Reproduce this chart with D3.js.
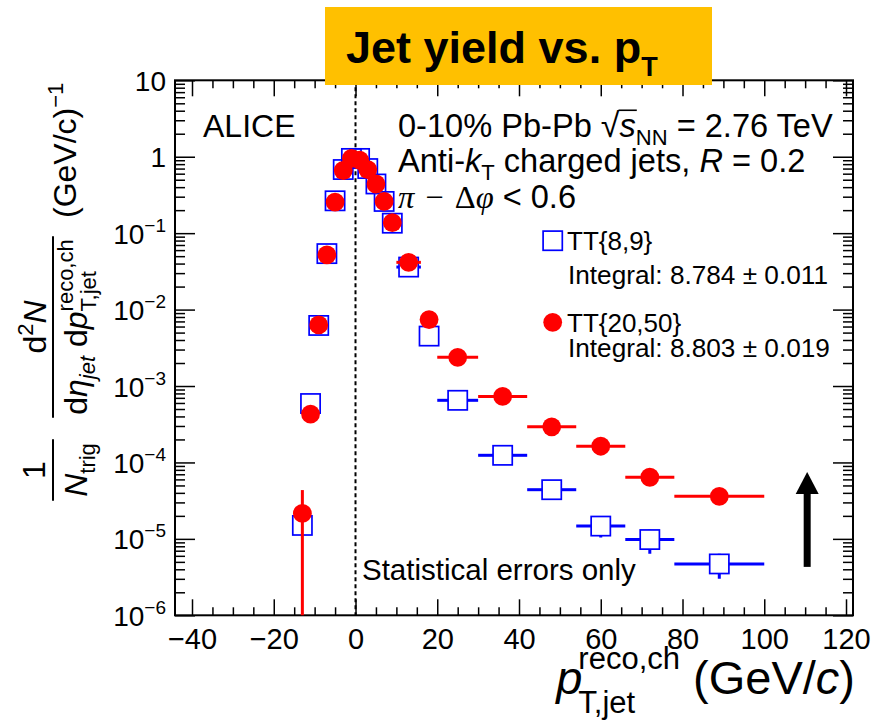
<!DOCTYPE html>
<html>
<head>
<meta charset="utf-8">
<script src="https://cdn.jsdelivr.net/npm/d3@7"></script>
<style>
  body { margin: 0; background: #fff; }
  text { font-family: "Liberation Sans", Arial, Helvetica, sans-serif; fill: #000; white-space: pre; }
</style>
</head>
<body>
<svg id="chart" width="877" height="720"></svg>
<script>
// ---- data: recoil jet yield per trigger, 0-10% Pb-Pb ----
const ptCenters    = [-13, -11, -9, -7, -5, -3, -1, 1, 3, 5, 7, 9, 13, 18, 25, 36, 48, 60, 72, 89];
const ptHalfWidths = [1, 1, 1, 1, 1, 1, 1, 1, 1, 1, 1, 1, 3, 2, 5, 6, 6, 6, 6, 11];

// TT{8,9} reference trigger class
const yieldTT89 = [1.5e-5, 5.9e-4, 6.2e-3, 0.054, 0.265, 0.68, 0.95, 0.95, 0.70, 0.44, 0.26, 0.135,
                   0.036, 4.5e-3, 6.5e-4, 1.24e-4, 4.4e-5, 1.47e-5, 9.8e-6, 4.7e-6];
const errTT89   = [3e-6, 6e-5, 3e-4, 1.5e-3, 4e-3, 8e-3, 1e-2, 1e-2, 8e-3, 6e-3, 4e-3, 2.5e-3,
                   5e-4, 1e-4, 3e-5, 1e-5, 5e-6, 4.3e-6, 3.4e-6, 1.7e-6];

// TT{20,50} signal trigger class
const yieldTT2050 = [2.15e-5, 4.3e-4, 6.3e-3, 0.052, 0.255, 0.66, 0.95, 0.90, 0.68, 0.44, 0.26, 0.137,
                     0.0415, 7.4e-3, 2.37e-3, 7.3e-4, 2.92e-4, 1.63e-4, 6.4e-5, 3.6e-5];
const errTT2050   = [2.2e-5, 9e-5, 8e-4, 3e-3, 8e-3, 1.5e-2, 2e-2, 2e-2, 1.5e-2, 1e-2, 7e-3, 4e-3,
                     1.5e-3, 4e-4, 1.6e-4, 6e-5, 3e-5, 2e-5, 1.2e-5, 6e-6];

const seriesNames = ["TT{8,9}", "TT{20,50}"];
const integralLabels = ["Integral: 8.784 \u00b1 0.011", "Integral: 8.803 \u00b1 0.019"];

// axis ticks
const xMajorTicks = [-40, -20, 0, 20, 40, 60, 80, 100, 120];
const xTickLabels = ["\u221240", "\u221220", "0", "20", "40", "60", "80", "100", "120"];
const yExponents  = [-6, -5, -4, -3, -2, -1, 0, 1];

// upward arrow annotation (x in GeV/c, y in yield units)
const arrowX = 110.5, arrowFrom = 4.3e-6, arrowTo = 7.5e-5;

// ---- layout ----
const svg = d3.select("#chart");
const frame = { l: 175, r: 853, t: 80.3, b: 615.3 };
const x = d3.scaleLinear().domain([-44.16, 121.71]).range([frame.l, frame.r]);
const y = d3.scaleLog().domain([1e-6, 10]).range([frame.b, frame.t]);

const BLUE = "#0000ff", RED = "#ff0000";

// rich text: a row of pieces with their own size / style / baseline shift
function rich(parent, x0, y0, parts, anchor = "start", defSize = 32) {
  const outer = parent.append("g").attr("transform", `translate(${x0},${y0})`);
  const g = outer.append("g");
  let cx = 0, pendingW = null;
  parts.forEach(p => {
    const s = p.s || defSize;
    cx += (p.gap || 0);
    const t = g.append("text")
      .attr("x", cx).attr("y", p.dy || 0)
      .attr("font-size", s)
      .attr("font-style", p.i ? "italic" : null)
      .attr("font-weight", p.b ? "bold" : null)
      .style("font-family", p.f || null)
      .text(p.t);
    const w = t.node().getComputedTextLength();
    if (p.over) {
      g.append("line").attr("x1", cx - 1).attr("x2", cx + w + 1)
        .attr("y1", (p.dy || 0) - s * p.over).attr("y2", (p.dy || 0) - s * p.over)
        .attr("stroke", "#000").attr("stroke-width", 1.6);
    }
    if (p.stack) { pendingW = w; }
    else { cx += pendingW != null ? Math.max(w, pendingW) : w; pendingW = null; }
  });
  const shift = anchor === "middle" ? -cx / 2 : anchor === "end" ? -cx : 0;
  g.attr("transform", `translate(${shift},0)`);
  return { g: outer, width: cx };
}

function frac(parent, cx, num, den, numBase, denBase, lineY, pad, size) {
  const n = rich(parent, cx, numBase, num, "middle", size);
  const d = rich(parent, cx, denBase, den, "middle", size);
  const w = Math.max(n.width, d.width) + pad;
  parent.append("line").attr("x1", cx - w / 2).attr("x2", cx + w / 2)
    .attr("y1", lineY).attr("y2", lineY).attr("stroke", "#000").attr("stroke-width", 2);
}

// ---- axes ----
const xMinorTicks = d3.range(-40, 121, 5).filter(v => !xMajorTicks.includes(v));
const yMajorTicks = yExponents.map(e => Math.pow(10, e));
const yMinorTicks = [];
yExponents.slice(0, -1).forEach(e => { for (let m = 2; m <= 9; m++) yMinorTicks.push(m * Math.pow(10, e)); });

function styleAxis(g) {
  g.select(".domain").remove();
  g.selectAll(".tick line").attr("stroke", "#000").attr("stroke-width", 1.5);
}

const axes = svg.append("g");
// bottom
axes.append("g").attr("transform", `translate(0,${frame.b})`)
  .call(d3.axisBottom(x).tickValues(xMajorTicks).tickSizeInner(-16).tickSizeOuter(0).tickPadding(13)
    .tickFormat((d, i) => xTickLabels[i]))
  .call(styleAxis)
  .call(g => g.selectAll(".tick text").attr("font-size", 29).attr("font-family", null).attr("fill", "#000"));
axes.append("g").attr("transform", `translate(0,${frame.b})`)
  .call(d3.axisBottom(x).tickValues(xMinorTicks).tickSizeInner(-8).tickSizeOuter(0).tickFormat(""))
  .call(styleAxis);
// top
axes.append("g").attr("transform", `translate(0,${frame.t})`)
  .call(d3.axisTop(x).tickValues(xMajorTicks).tickSizeInner(-16).tickSizeOuter(0).tickFormat(""))
  .call(styleAxis);
axes.append("g").attr("transform", `translate(0,${frame.t})`)
  .call(d3.axisTop(x).tickValues(xMinorTicks).tickSizeInner(-8).tickSizeOuter(0).tickFormat(""))
  .call(styleAxis);
// left
const leftAxis = axes.append("g").attr("transform", `translate(${frame.l},0)`)
  .call(d3.axisLeft(y).tickValues(yMajorTicks).tickSizeInner(-20).tickSizeOuter(0).tickFormat(""))
  .call(styleAxis);
leftAxis.selectAll(".tick text").remove();
leftAxis.selectAll(".tick").each(function (d, i) {
  const e = yExponents[i];
  const t = d3.select(this).append("text")
    .attr("x", -9).attr("y", 10).attr("text-anchor", "end").attr("font-size", 28);
  if (e === 0) t.text("1");
  else if (e === 1) t.text("10");
  else {
    t.append("tspan").text("10");
    t.append("tspan").attr("font-size", 19).attr("dy", -12).text("\u2212" + Math.abs(e));
  }
});
axes.append("g").attr("transform", `translate(${frame.l},0)`)
  .call(d3.axisLeft(y).tickValues(yMinorTicks).tickSizeInner(-10).tickSizeOuter(0).tickFormat(""))
  .call(styleAxis);
// right
axes.append("g").attr("transform", `translate(${frame.r},0)`)
  .call(d3.axisRight(y).tickValues(yMajorTicks).tickSizeInner(-20).tickSizeOuter(0).tickFormat(""))
  .call(styleAxis);
axes.append("g").attr("transform", `translate(${frame.r},0)`)
  .call(d3.axisRight(y).tickValues(yMinorTicks).tickSizeInner(-10).tickSizeOuter(0).tickFormat(""))
  .call(styleAxis);

// frame
svg.append("rect").attr("x", frame.l).attr("y", frame.t)
  .attr("width", frame.r - frame.l).attr("height", frame.b - frame.t)
  .attr("fill", "none").attr("stroke", "#000").attr("stroke-width", 2);

// dashed line at zero
svg.append("line").attr("x1", x(0)).attr("x2", x(0)).attr("y1", frame.t).attr("y2", frame.b)
  .attr("stroke", "#000").attr("stroke-width", 2).attr("stroke-dasharray", "4,3");

// ---- data ----
svg.append("clipPath").attr("id", "plotclip").append("rect")
  .attr("x", frame.l).attr("y", frame.t).attr("width", frame.r - frame.l).attr("height", frame.b - frame.t);
const plot = svg.append("g").attr("clip-path", "url(#plotclip)");

const HALF_SQ = 9.6, R_CIRC = 9.4;

// TT{8,9}: open squares, error bars stop at the marker edge
const blue = plot.append("g");
ptCenters.forEach((c, i) => {
  const px = x(c), py = y(yieldTT89[i]);
  const xl = x(c - ptHalfWidths[i]), xr = x(c + ptHalfWidths[i]);
  const lo = yieldTT89[i] - errTT89[i];
  const yt = y(yieldTT89[i] + errTT89[i]), yb = lo > 0 ? y(lo) : frame.b + 5;
  const segs = [];
  if (px - HALF_SQ > xl) segs.push([xl, py, px - HALF_SQ, py]);
  if (xr > px + HALF_SQ) segs.push([px + HALF_SQ, py, xr, py]);
  if (yt < py - HALF_SQ) segs.push([px, yt, px, py - HALF_SQ]);
  if (yb > py + HALF_SQ) segs.push([px, py + HALF_SQ, px, yb]);
  segs.forEach(s => blue.append("line").attr("x1", s[0]).attr("y1", s[1]).attr("x2", s[2]).attr("y2", s[3])
    .attr("stroke", BLUE).attr("stroke-width", 3));
  blue.append("rect").attr("x", px - HALF_SQ).attr("y", py - HALF_SQ)
    .attr("width", 2 * HALF_SQ).attr("height", 2 * HALF_SQ)
    .attr("fill", "none").attr("stroke", BLUE).attr("stroke-width", 1.7);
});

// TT{20,50}: full circles
const red = plot.append("g");
ptCenters.forEach((c, i) => {
  const px = x(c), py = y(yieldTT2050[i]);
  const lo = yieldTT2050[i] - errTT2050[i];
  red.append("line").attr("x1", x(c - ptHalfWidths[i])).attr("x2", x(c + ptHalfWidths[i]))
    .attr("y1", py).attr("y2", py).attr("stroke", RED).attr("stroke-width", 3);
  red.append("line").attr("x1", px).attr("x2", px)
    .attr("y1", y(yieldTT2050[i] + errTT2050[i])).attr("y2", lo > 0 ? y(lo) : frame.b + 5)
    .attr("stroke", RED).attr("stroke-width", 3);
});
ptCenters.forEach((c, i) => {
  red.append("circle").attr("cx", x(c)).attr("cy", y(yieldTT2050[i])).attr("r", R_CIRC).attr("fill", RED);
});

// arrow
const ax = x(arrowX), aTop = y(arrowTo), aBot = y(arrowFrom);
svg.append("rect").attr("x", ax - 3.5).attr("y", aTop + 20).attr("width", 7).attr("height", aBot - aTop - 20).attr("fill", "#000");
svg.append("path").attr("d", `M${ax},${aTop} L${ax + 11.5},${aTop + 22} L${ax - 11.5},${aTop + 22} Z`).attr("fill", "#000");

// ---- texts ----
svg.append("text").attr("x", 203).attr("y", 137).attr("font-size", 32).text("ALICE");

const SERIF = "'Liberation Serif', 'DejaVu Serif', serif";
rich(svg, 398, 137, [
  { t: "0-10% Pb-Pb " }, { t: "\u221a", s: 34 }, { t: "s", i: true, over: 0.82 },
  { t: "NN", s: 22, dy: 8 }, { t: " = 2.76 TeV" }
], "start", 32.6);
rich(svg, 398, 172, [
  { t: "Anti-" }, { t: "k", i: true }, { t: "T", s: 22, dy: 8 }, { t: " charged jets, " },
  { t: "R", i: true }, { t: " = 0.2" }
], "start", 32.6);
rich(svg, 398, 208, [
  { t: "\u03c0", i: true, f: SERIF }, { t: "\u2212", f: SERIF, gap: 11 }, { t: "\u0394", f: SERIF, gap: 11 },
  { t: "\u03c6", i: true, f: SERIF }, { t: "<", gap: 9 }, { t: "0.6", gap: 9 }
], "start", 32.6);

// legend
const lx = 552.7;
svg.append("rect").attr("x", lx - HALF_SQ).attr("y", 240.7 - HALF_SQ).attr("width", 2 * HALF_SQ).attr("height", 2 * HALF_SQ)
  .attr("fill", "none").attr("stroke", BLUE).attr("stroke-width", 1.7);
svg.append("circle").attr("cx", lx).attr("cy", 322.3).attr("r", R_CIRC).attr("fill", RED);
svg.append("text").attr("x", 567).attr("y", 250).attr("font-size", 26).text(seriesNames[0]);
svg.append("text").attr("x", 568).attr("y", 284).attr("font-size", 26.2).text(integralLabels[0]);
svg.append("text").attr("x", 567).attr("y", 332).attr("font-size", 26).text(seriesNames[1]);
svg.append("text").attr("x", 568).attr("y", 357).attr("font-size", 26.2).text(integralLabels[1]);

svg.append("text").attr("x", 362).attr("y", 580).attr("font-size", 29.5).text("Statistical errors only");

// x-axis title
rich(svg, 855, 694, [
  { t: "p", i: true, s: 47 },
  { t: "reco,ch", s: 31, dy: -25, gap: -4, stack: true },
  { t: "T,jet", s: 31, dy: 19 },
  { t: " (GeV/", s: 47 }, { t: "c", s: 47, i: true }, { t: ")", s: 47 }
], "end");

// y-axis title (rotated)
const yt = svg.append("g").attr("transform", "rotate(-90)");
frac(yt, -470,
  [{ t: "1" }],
  [{ t: "N", i: true }, { t: "trig", s: 22, dy: 8 }],
  45, 87, 53, 8, 32);
frac(yt, -327,
  [{ t: "d" }, { t: "2", s: 22, dy: -13 }, { t: "N", i: true }],
  [{ t: "d" }, { t: "\u03b7", i: true }, { t: "jet", s: 22, dy: 8, i: true }, { t: " d" }, { t: "p", i: true },
   { t: "reco,ch", s: 22, dy: -14, stack: true }, { t: "T,jet", s: 22, dy: 9 }],
  46, 87, 53, 6, 32);
rich(yt, -218, 76, [{ t: "(GeV/c)" }, { t: "\u22121", s: 22, dy: -13 }]);

// ---- title banner ----
svg.append("rect").attr("x", 325).attr("y", 7).attr("width", 387).attr("height", 78).attr("fill", "#ffc000");
rich(svg, 346, 63, [{ t: "Jet yield vs. p", b: true, s: 45 }, { t: "T", b: true, s: 27, dy: 13 }]);
</script>
</body>
</html>
